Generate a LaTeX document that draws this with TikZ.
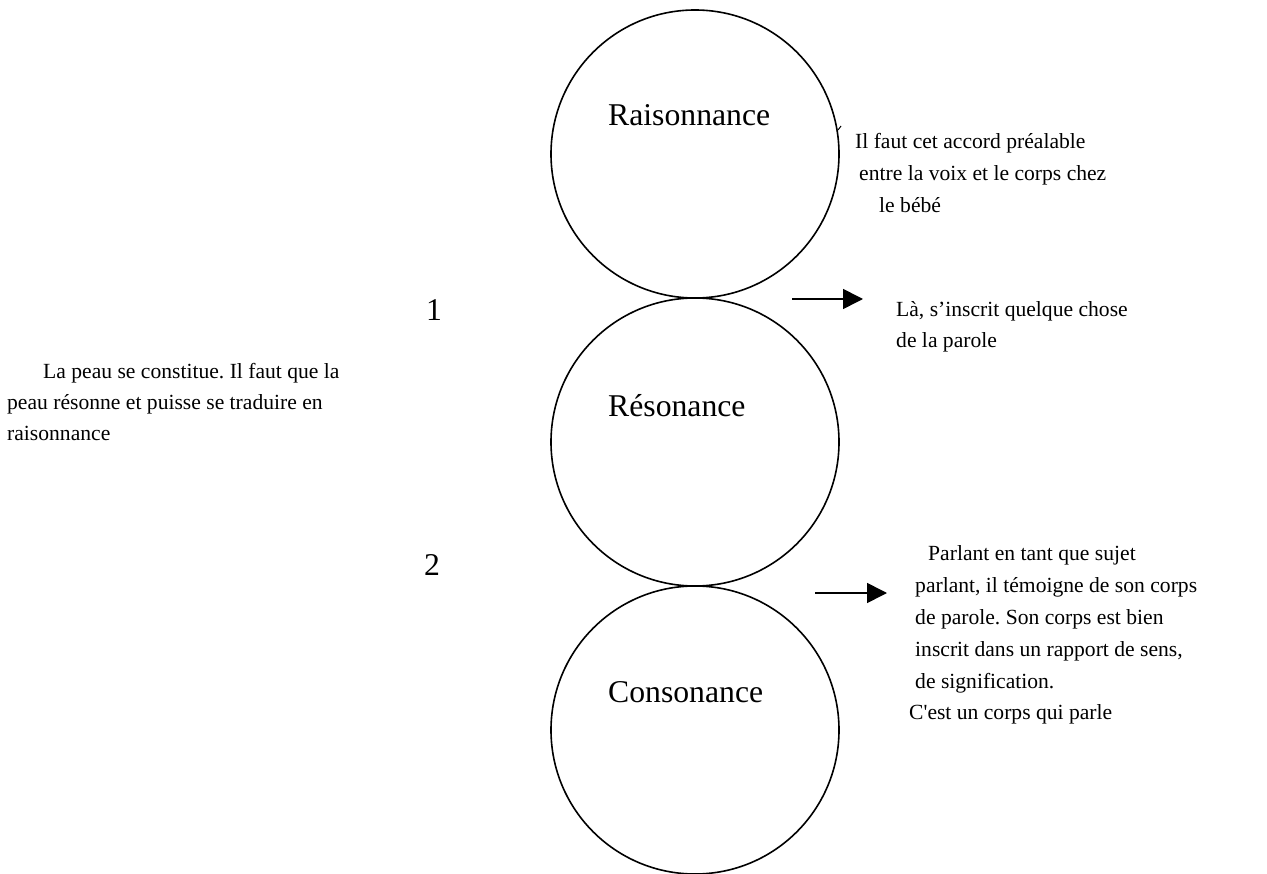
\documentclass[tikz,border=0pt]{standalone}
\usepackage{fontspec}
\setmainfont{Liberation Serif}
\usetikzlibrary{arrows.meta}
\frenchspacing
\begin{document}
\begin{tikzpicture}[x=1pt,y=-1pt,
  ring/.style={draw,circle,line width=1.6pt,minimum size=288pt,inner sep=0pt},
  big/.style={inner sep=0pt,anchor=base west,font=\fontsize{31.7pt}{38pt}\selectfont},
  small/.style={inner sep=0pt,anchor=base west,font=\fontsize{21.6pt}{26pt}\selectfont},
  pointer/.style={line width=1.6pt,-{Triangle[length=20pt,width=20pt]}}]
\useasboundingbox (0,0) rectangle (1267,874);

% the three stacked circles
\node[ring] (top) at (695,154) {};
\node[ring] (mid) at (695,442) {};
\node[ring] (bot) at (695,730) {};

% circle labels
\node[big] (lraison) at (608,126) {Raisonnance};
\node[big] (lreson) at (608,417) {Résonance};
\node[big] (lcons) at (608,702) {Consonance};

% numbers on the left of the contact points
\node[big] (n1) at (426,321) {1};
\node[big] (n2) at (424,575) {2};

% small tick on the right of the top circle
\coordinate (t1) at (838,130);
\coordinate (t2) at (841,126);
\draw[line width=1pt] (t1) -- (t2);

% arrows
\coordinate (a1s) at (792,299);
\coordinate (a1e) at (863,299);
\coordinate (a2s) at (815,593);
\coordinate (a2e) at (887,593);
\draw[pointer] (a1s) -- (a1e);
\draw[pointer] (a2s) -- (a2e);

% text beside the top circle
\node[small] (ta1) at (855,149) {Il faut cet accord préalable};
\node[small] (ta2) at (859,181) {entre la voix et le corps chez};
\node[small] (ta3) at (879,213) {le bébé};

% text after the first arrow
\node[small] (tb1) at (896,317) {Là, s’inscrit quelque chose};
\node[small] (tb2) at (896,348) {de la parole};

% text on the left
\node[small] (tc1) at (43,379) {La peau se constitue. Il faut que la};
\node[small] (tc2) at (7,410) {peau résonne et puisse se traduire en};
\node[small] (tc3) at (7,441) {raisonnance};

% text after the second arrow
\node[small] (td1) at (928,560) {Parlant en tant que sujet};
\node[small] (td2) at (915,592) {parlant, il témoigne de son corps};
\node[small] (td3) at (915,624) {de parole. Son corps est bien};
\node[small] (td4) at (915,656) {inscrit dans un rapport de sens,};
\node[small] (td5) at (915,688) {de signification.};
\node[small] (td6) at (909,719) {C\textquotesingle est un corps qui parle};
\end{tikzpicture}
\end{document}
